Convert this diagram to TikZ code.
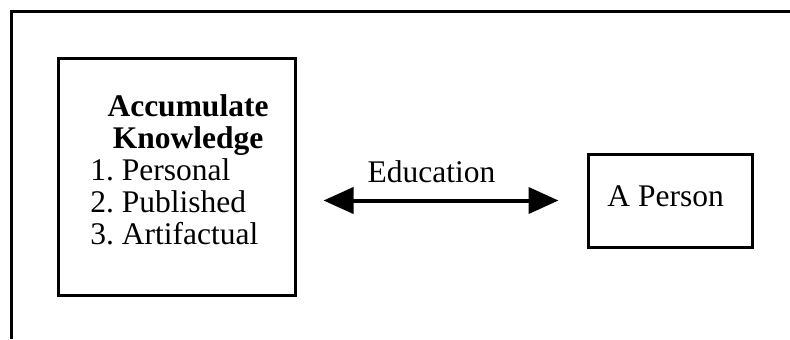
\documentclass[tikz,border=0pt]{standalone}
\usepackage{fontspec}
\setmainfont{Liberation Serif}
\usepackage{tikz}
\usetikzlibrary{arrows.meta,positioning,calc}

\begin{document}
\begin{tikzpicture}[
  x=0.5pt, y=-0.5pt,
  every node/.style={font=\fontsize{15.75}{19}\selectfont, inner sep=0pt},
  frame/.style={line width=1.5pt},
  box/.style={draw, line width=1.5pt, inner sep=0pt},
  head/.style={font=\fontsize{15.75}{19}\selectfont\bfseries, anchor=base},
  item/.style={anchor=base west},
  arrow/.style={{Triangle[length=15pt,width=13pt]}-{Triangle[length=15pt,width=13pt]}, line width=2pt}
]
\useasboundingbox (0,0) rectangle (790,339);

% Marco exterior (abierto a la derecha y abajo)
\draw[frame] (11,339) -- (11,11) -- (790,11);

% Caja izquierda: conocimiento acumulado
\node[box, minimum width=118.5pt, minimum height=118.5pt] (know) at (176.5,176.5) {};
\node[head] (acc) at (188,116) {Accumulate};
\node[head] (kno) at (188,148) {Knowledge};
\node[item] (it1) at (90,180) {1.\ Personal};
\node[item] (it2) at (90,212) {2.\ Published};
\node[item] (it3) at (90,244) {3.\ Artifactual};

% Caja derecha: la persona
\node[box, minimum width=82pt, minimum height=46.5pt] (person) at (670,200.5) {};
\node[item] (pers) at (607,206) {A Person};

% Flecha doble
\draw[arrow, shorten <=13.5pt, shorten >=14pt] (know.east |- person.west) -- (person.west)
  node[midway, anchor=base, yshift=9pt, xshift=-5pt] (edu) {Education};
\end{tikzpicture}
\end{document}
